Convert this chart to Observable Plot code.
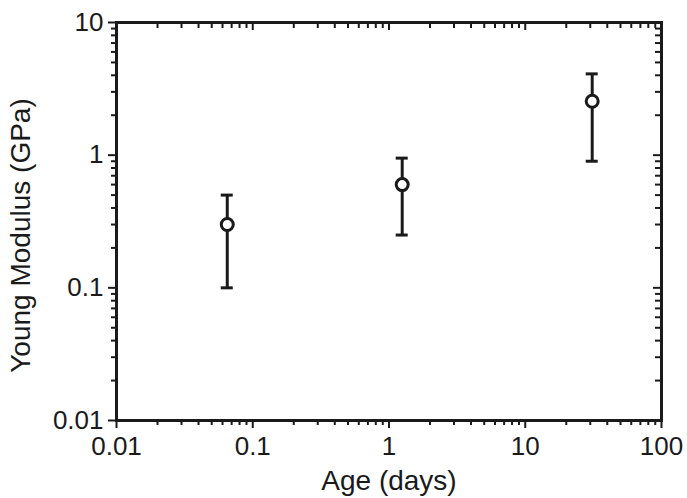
<!DOCTYPE html>
<html><head><meta charset="utf-8">
<script src="https://cdn.jsdelivr.net/npm/d3@7"></script>
<script src="https://cdn.jsdelivr.net/npm/@observablehq/plot@0.6"></script>
<style>html,body{margin:0;padding:0;background:#fff}#chart svg{display:block}</style>
</head><body><div id="chart"></div>
<script>
// Data
const ages = [0.065, 1.25, 31];          // Age (days)
const modulus = [0.30, 0.60, 2.55];      // Young modulus (GPa)
const lower = [0.10, 0.25, 0.90];        // lower end of error bar
const upper = [0.50, 0.95, 4.1];         // upper end of error bar

const xMajor = [0.01, 0.1, 1, 10, 100];
const xMajorLabels = ["0.01", "0.1", "1", "10", "100"];
const yMajor = [0.01, 0.1, 1, 10];
const yMajorLabels = ["0.01", "0.1", "1", "10"];
const minorMultipliers = [2, 3, 4, 5, 6, 7, 8, 9];
const xDecades = [0.01, 0.1, 1, 10];
const yDecades = [0.01, 0.1, 1];
const xTitle = "Age (days)";
const yTitle = "Young Modulus (GPa)";

const data = ages.map((a, i) => ({age: a, E: modulus[i], lo: lower[i], hi: upper[i]}));
const xMinor = xDecades.flatMap(d => minorMultipliers.map(k => +(k * d).toPrecision(3)));
const yMinor = yDecades.flatMap(d => minorMultipliers.map(k => +(k * d).toPrecision(3)));

const W = 687, H = 498;
const mL = 116, mR = 26, mT = 22, mB = 78;
const plotW = W - mL - mR, plotH = H - mT - mB;
const ink = "#1a1a1a";

const chart = Plot.plot({
  width: W, height: H,
  marginLeft: mL, marginRight: mR, marginTop: mT, marginBottom: mB,
  style: {fontFamily: "'Liberation Sans', Arial, sans-serif", fontSize: "26px", color: ink, background: "#fff", overflow: "visible"},
  x: {type: "log", domain: [0.01, 100]},
  y: {type: "log", domain: [0.01, 10]},
  marks: [
    // mirrored inward ticks on top and right
    Plot.ruleX(xMajor, {x: d => d, stroke: ink, strokeWidth: 2, insetBottom: plotH - 8}),
    Plot.ruleX(xMinor, {x: d => d, stroke: ink, strokeWidth: 2, insetBottom: plotH - 6}),
    Plot.ruleY(yMajor, {y: d => d, stroke: ink, strokeWidth: 2, insetLeft: plotW - 8}),
    Plot.ruleY(yMinor, {y: d => d, stroke: ink, strokeWidth: 2, insetLeft: plotW - 6}),
    // bottom axis (outward ticks)
    Plot.axisX(xMinor, {anchor: "bottom", tickSize: 5, strokeWidth: 2, stroke: ink, tickFormat: () => "", label: null}),
    Plot.axisX(xMajor, {anchor: "bottom", tickSize: 8, tickPadding: 8, strokeWidth: 2, stroke: ink, fill: ink,
      tickFormat: d => xMajorLabels[xMajor.indexOf(d)], label: null}),
    // left axis (outward ticks)
    Plot.axisY(yMinor, {anchor: "left", tickSize: 5, strokeWidth: 2, stroke: ink, tickFormat: () => "", label: null}),
    Plot.axisY(yMajor, {anchor: "left", tickSize: 8, tickPadding: 5, strokeWidth: 2, stroke: ink, fill: ink,
      tickFormat: d => yMajorLabels[yMajor.indexOf(d)], label: null}),
    // axis titles
    Plot.text([xTitle], {text: d => d, frameAnchor: "bottom", dy: 69, fill: ink, fontSize: 28}),
    Plot.text([yTitle], {text: d => d, frameAnchor: "left", textAnchor: "middle", dx: -95, dy: 14, rotate: -90, fill: ink, fontSize: 28}),
    Plot.frame({stroke: ink, strokeWidth: 3}),
    // error bars
    Plot.ruleX(data, {x: "age", y1: "lo", y2: "hi", stroke: ink, strokeWidth: 3}),
    Plot.ruleY(data, {y: "hi", x1: "age", x2: "age", insetLeft: -6, insetRight: -6, stroke: ink, strokeWidth: 3}),
    Plot.ruleY(data, {y: "lo", x1: "age", x2: "age", insetLeft: -6, insetRight: -6, stroke: ink, strokeWidth: 3}),
    Plot.dot(data, {x: "age", y: "E", r: 6, fill: "#fff", stroke: ink, strokeWidth: 3})
  ]
});
document.getElementById("chart").appendChild(chart);
</script>
</body></html>
